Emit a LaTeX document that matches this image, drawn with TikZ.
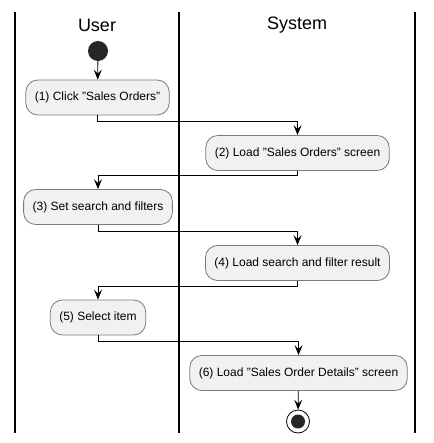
\documentclass[tikz,border=0pt]{standalone}
\usepackage{fontspec}
\setmainfont{Liberation Sans}
\usepackage{xcolor}
\usetikzlibrary{arrows.meta}

\definecolor{actfill}{HTML}{F1F1F1}
\definecolor{actline}{HTML}{7A7A7A}

\tikzset{
  act/.style={draw=actline, fill=actfill, rounded corners=12pt, line width=0.8pt,
    minimum height=35pt, inner xsep=9pt, font=\fontsize{12}{14}\selectfont},
  flow/.style={-{Stealth[length=10pt,width=8pt,inset=4pt]}, line width=0.8pt},
  lane/.style={line width=1.3pt},
  title/.style={font=\fontsize{18}{20}\selectfont}
}

\begin{document}
\begin{tikzpicture}[x=1pt,y=-1pt]
\useasboundingbox (0,0) rectangle (433,443);

% swimlanes
\draw [lane] (15,12) -- (15,433);
\draw [lane] (179,12) -- (179,433);
\draw [lane] (415,12) -- (415,433);
\node [title] (user) at (97,25) {User};
\node [title] (system) at (297,25) {System};

% activities
\node [circle, fill=black!85, minimum size=20pt, inner sep=0pt] (start) at (98,51) {};
\node [act] (click) at (97.5,97.5) {(1) Click "Sales Orders"};
\node [act] (loadso) at (297.5,153) {(2) Load "Sales Orders" screen};
\node [act] (filter) at (98,207) {(3) Set search and filters};
\node [act] (result) at (297.5,263) {(4) Load search and filter result};
\node [act] (select) at (98,317.5) {(5) Select item};
\node [act] (details) at (298.5,373) {(6) Load "Sales Order Details" screen};
\node [circle, draw, line width=0.8pt, minimum size=23pt, inner sep=0pt] (stop) at (298,421.5) {};
\fill [black!85] (stop.center) circle [radius=7pt];

% flow
\draw [flow] (start) -- (click);
\draw [flow] (click.south) -- ++(0,6) -| (loadso.north);
\draw [flow] (loadso.south) -- ++(0,5) -| (filter.north);
\draw [flow] (filter.south) -- ++(0,6) -| (result.north);
\draw [flow] (result.south) -- ++(0,5) -| (select.north);
\draw [flow] (select.south) -- ++(0,6) -| (details.north);
\draw [flow] (details) -- (stop);

\end{tikzpicture}
\end{document}
